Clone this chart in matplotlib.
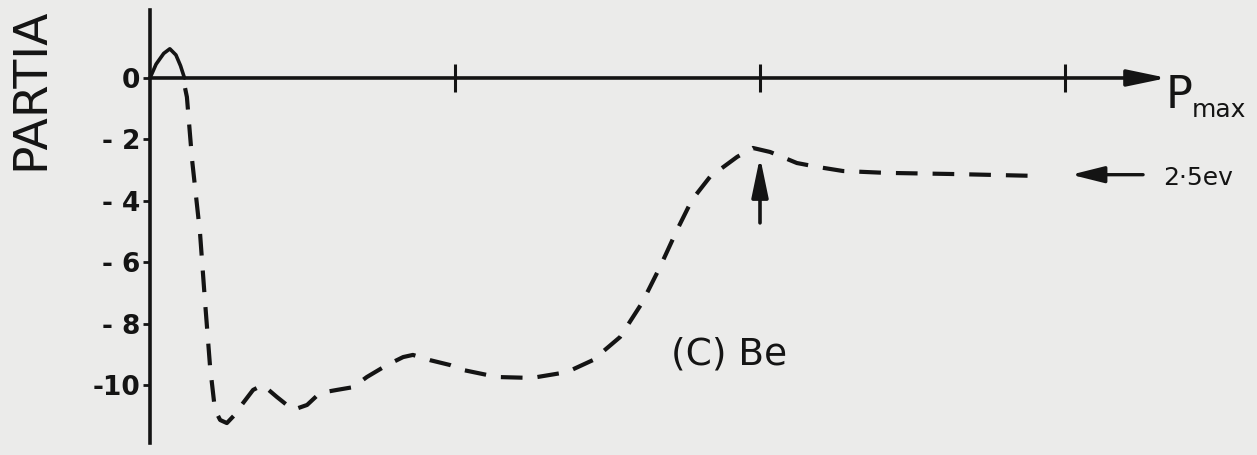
import matplotlib
matplotlib.use("Agg")
import matplotlib.pyplot as plt

# solid part near the origin
x_solid = [0.0, 0.02, 0.045, 0.065, 0.085, 0.10, 0.113]
y_solid = [0.0, 0.45, 0.8, 0.95, 0.75, 0.4, 0.0]

# dashed part
x_dash = [0.115, 0.121, 0.138, 0.164, 0.180, 0.197, 0.213, 0.230, 0.252, 0.275,
          0.295, 0.338, 0.370, 0.416, 0.469, 0.515, 0.557, 0.613, 0.666, 0.711,
          0.777, 0.830, 0.862, 0.918, 0.984, 1.026, 1.138, 1.252, 1.367, 1.452,
          1.541, 1.613, 1.672, 1.728, 1.777, 1.836, 1.925, 1.977, 2.033, 2.121,
          2.190, 2.272, 2.410, 2.643, 2.905]
y_dash = [-0.33, -0.62, -2.67, -5.05, -7.23, -9.41, -10.81, -11.14, -11.24, -11.0,
          -10.72, -10.16, -10.0, -10.39, -10.81, -10.65, -10.26, -10.16, -10.07, -9.74,
          -9.35, -9.09, -9.02, -9.19, -9.35, -9.51, -9.74, -9.77, -9.58, -9.19,
          -8.44, -7.33, -6.16, -4.95, -3.97, -3.22, -2.57, -2.28, -2.41, -2.77,
          -2.90, -3.03, -3.09, -3.13, -3.19]

yticks = [0, -2, -4, -6, -8, -10]
ytick_labels = ["0", "- 2", "- 4", "- 6", "- 8", "-10"]
xticks = [1, 2, 3]

peak_x = 2.0        # arrow marking the maximum
level_y = -3.15     # 2.5 ev level

ink = "#141414"
paper = "#ebebea"

fig = plt.figure(figsize=(12.57, 4.55), dpi=100, facecolor=paper)
ax = fig.add_axes([0, 0, 1, 1], facecolor=paper)
ax.set_xlim(-0.4918, 3.6295)
ax.set_ylim(-12.28, 2.54)

ax.plot(x_solid, y_solid, color=ink, lw=2.6, solid_capstyle="round")
ax.plot(x_dash, y_dash, color=ink, lw=3.0, linestyle=(0, (5.2, 3.6)))

# axes
for s in ["top", "right", "bottom"]:
    ax.spines[s].set_visible(False)
ax.spines["left"].set_position(("data", 0))
ax.spines["bottom"].set_position(("data", 0))
ax.spines["left"].set_bounds(-11.9, 2.2)
ax.spines["left"].set_linewidth(2.6)
ax.spines["left"].set_color(ink)

ax.annotate("", xy=(3.335, 0), xytext=(0, 0),
            arrowprops=dict(arrowstyle="-|>,head_length=1.2,head_width=0.25",
                            mutation_scale=20, lw=2.6, color=ink,
                            shrinkA=0, shrinkB=0))

ax.set_yticks(yticks)
ax.set_yticklabels(ytick_labels)
ax.set_xticks(xticks)
ax.set_xticklabels([])
ax.tick_params(axis="y", direction="out", length=5, width=2, color=ink,
               pad=2, labelsize=19, labelcolor=ink)
ax.tick_params(axis="x", direction="inout", length=20, width=2.2, color=ink)
for lab in ax.get_yticklabels():
    lab.set_fontweight("bold")

# annotations
ax.annotate("", xy=(peak_x, -2.57), xytext=(peak_x, -4.72),
            arrowprops=dict(arrowstyle="-|>,head_length=1.2,head_width=0.25",
                            mutation_scale=20, lw=2.6, color=ink,
                            shrinkA=0, shrinkB=0))
ax.annotate("", xy=(3.02, level_y), xytext=(3.256, level_y),
            arrowprops=dict(arrowstyle="-|>,head_length=1.0,head_width=0.25",
                            mutation_scale=20, lw=2.4, color=ink,
                            shrinkA=0, shrinkB=0))

fig.text(1163 / 1257, 1 - 178 / 455, "2·5ev", ha="left", va="center",
         fontsize=18, color=ink)
fig.text(671 / 1257, 1 - 354 / 455, "(C) Be", ha="left", va="center",
         fontsize=27, color=ink)
fig.text(1166 / 1257, 1 - 108 / 455, "P", ha="left", va="baseline",
         fontsize=32, color=ink)
fig.text(1192 / 1257, 1 - 117 / 455, "max", ha="left", va="baseline",
         fontsize=18, color=ink)
fig.text(31 / 1257, 1 - 170 / 455, "PARTIA", rotation=90, ha="center",
         va="bottom", fontsize=34, color=ink)

fig.savefig("out.png", dpi=100, facecolor=paper)
